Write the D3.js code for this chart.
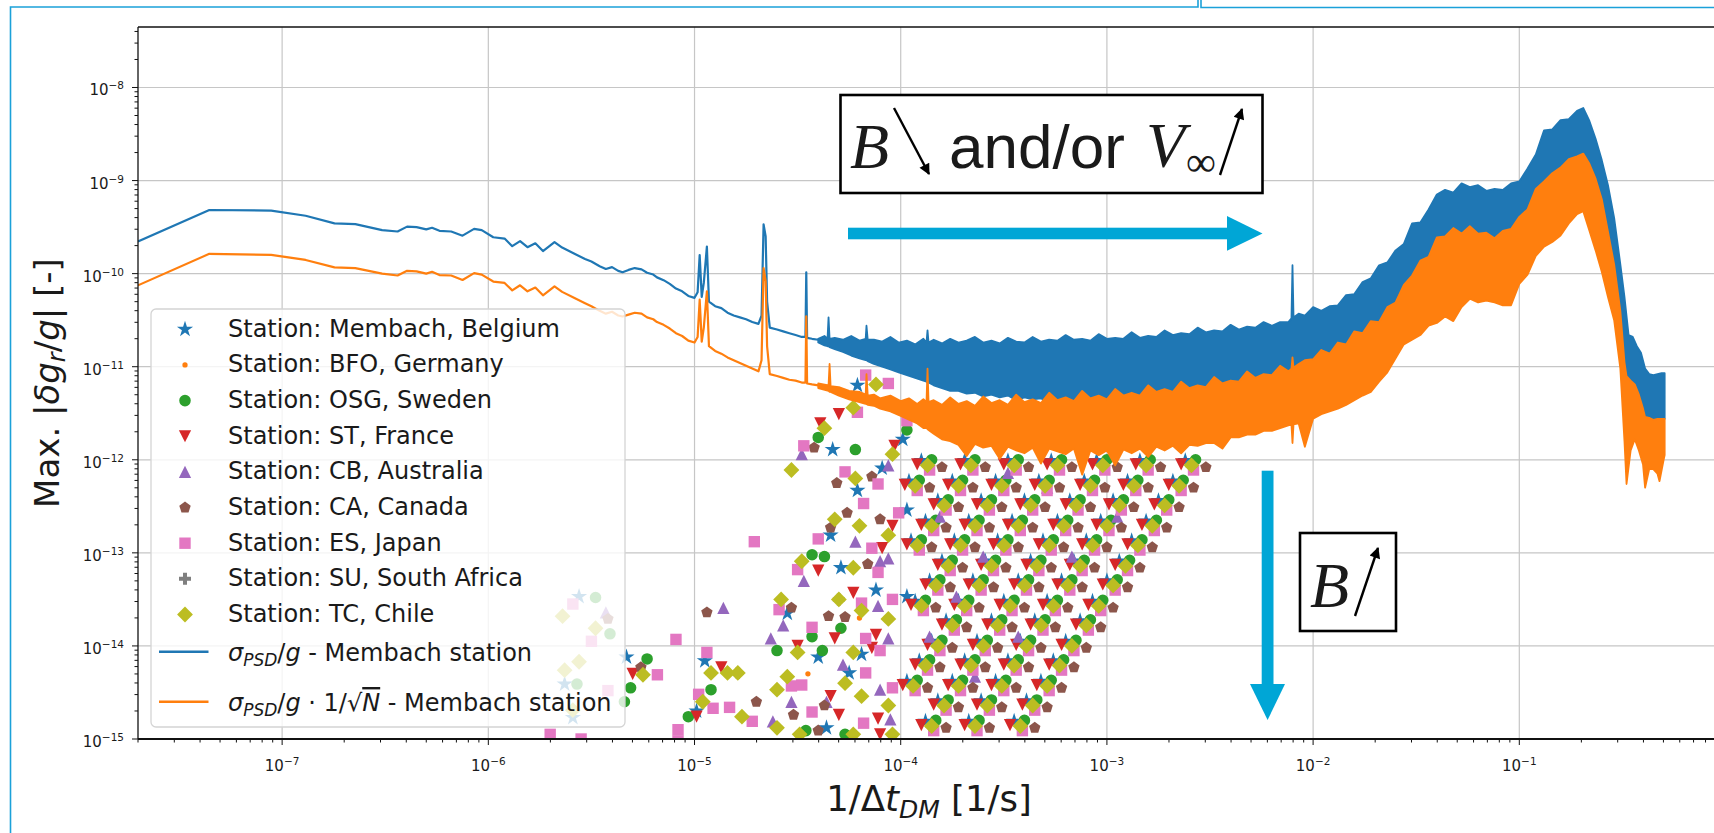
<!DOCTYPE html>
<html>
<head>
<meta charset="utf-8">
<script src="https://cdn.jsdelivr.net/npm/d3@7"></script>
<style>
  body { margin: 0; background: #fff; }
  svg { display: block; }
  text { fill: #1a1a1a; }
</style>
</head>
<body>
<svg id="svg"></svg>
<script>
// all values are log10 of (1/dt [1/s], max |dg/g|)

// sigma_PSD/g, smooth low-frequency part
const blueLine = [
  [-7.699,-9.654],[-7.353,-9.316],[-7.053,-9.323],[-6.886,-9.378],[-6.746,-9.46],[-6.645,-9.468],[-6.515,-9.533],
  [-6.44,-9.547],[-6.394,-9.495],[-6.348,-9.50],[-6.301,-9.525],[-6.273,-9.507],[-6.237,-9.54],[-6.18,-9.547],
  [-6.125,-9.592],[-6.069,-9.519],[-6.032,-9.533],[-5.976,-9.609],[-5.921,-9.623],[-5.884,-9.705],[-5.846,-9.65],
  [-5.81,-9.716],[-5.772,-9.674],[-5.735,-9.757],[-5.679,-9.661],[-5.642,-9.72],[-5.587,-9.781],[-5.531,-9.843],
  [-5.50,-9.87],[-5.46,-9.92],[-5.43,-9.95],[-5.40,-9.93],[-5.37,-9.97],[-5.349,-9.985],[-5.32,-9.96],[-5.29,-9.94],
  [-5.257,-9.954],[-5.23,-9.99],[-5.20,-10.01],[-5.182,-10.04],[-5.15,-10.07],[-5.12,-10.11],[-5.09,-10.16],
  [-5.06,-10.19],[-5.03,-10.24],[-5.00,-10.26],[-4.985,-10.2],[-4.975,-9.80],[-4.965,-10.25],[-4.955,-10.1],
  [-4.94,-9.71],[-4.93,-10.3],[-4.90,-10.35],[-4.87,-10.37],[-4.84,-10.42],[-4.81,-10.45],[-4.78,-10.47],
  [-4.75,-10.49],[-4.72,-10.52],[-4.69,-10.54],[-4.675,-10.45],[-4.665,-9.47],[-4.655,-9.6],[-4.648,-10.3],
  [-4.635,-10.58],[-4.60,-10.60],[-4.57,-10.62],[-4.54,-10.64],[-4.51,-10.66],[-4.48,-10.68],[-4.462,-10.68],
  [-4.458,-9.985],[-4.454,-10.69],[-4.43,-10.70],[-4.40,-10.71]
];
// sigma_PSD/g, noisy part: [x, top, bottom]
const blueBand = [
  [-4.40,-10.70,-10.74],[-4.37,-10.67,-10.77],[-4.355,-10.70,-10.78],[-4.35,-10.47,-10.78],[-4.345,-10.70,-10.79],
  [-4.32,-10.69,-10.81],[-4.28,-10.71,-10.84],[-4.24,-10.67,-10.88],[-4.20,-10.72,-10.91],[-4.17,-10.70,-10.93],
  [-4.166,-10.56,-10.93],[-4.16,-10.71,-10.94],[-4.13,-10.71,-10.97],[-4.09,-10.73,-11.00],[-4.05,-10.68,-11.03],
  [-4.01,-10.74,-11.06],[-3.97,-10.72,-11.09],[-3.93,-10.76,-11.12],[-3.89,-10.70,-11.15],[-3.875,-10.74,-11.16],
  [-3.87,-10.61,-11.17],[-3.865,-10.74,-11.17],[-3.84,-10.71,-11.20],[-3.80,-10.75,-11.23],[-3.76,-10.70,-11.26],
  [-3.72,-10.74,-11.26],[-3.68,-10.72,-11.29],[-3.64,-10.68,-11.28],[-3.60,-10.74,-11.32],[-3.56,-10.72,-11.30],
  [-3.52,-10.75,-11.33],[-3.48,-10.69,-11.31],[-3.44,-10.73,-11.36],[-3.40,-10.74,-11.33],[-3.36,-10.68,-11.35],
  [-3.32,-10.73,-11.34],[-3.28,-10.71,-11.38],[-3.24,-10.72,-11.35],[-3.20,-10.66,-11.37],[-3.16,-10.71,-11.36],
  [-3.12,-10.70,-11.39],[-3.08,-10.72,-11.36],[-3.04,-10.65,-11.38],[-3.00,-10.70,-11.37],[-2.96,-10.69,-11.38],
  [-2.92,-10.70,-11.35],[-2.88,-10.63,-11.37],[-2.84,-10.69,-11.34],[-2.80,-10.67,-11.36],[-2.76,-10.68,-11.33],
  [-2.72,-10.61,-11.34],[-2.68,-10.66,-11.32],[-2.64,-10.64,-11.33],[-2.60,-10.65,-11.30],[-2.56,-10.58,-11.31],
  [-2.52,-10.63,-11.29],[-2.48,-10.61,-11.29],[-2.44,-10.62,-11.26],[-2.40,-10.55,-11.26],[-2.36,-10.60,-11.23],
  [-2.32,-10.57,-11.22],[-2.28,-10.58,-11.19],[-2.24,-10.52,-11.18],[-2.20,-10.56,-11.15],[-2.16,-10.52,-11.14],
  [-2.12,-10.52,-11.10],[-2.105,-10.48,-11.06],[-2.10,-9.91,-11.0],[-2.095,-10.47,-11.06],[-2.07,-10.43,-11.08],
  [-2.04,-10.45,-11.05],[-2.00,-10.36,-11.0],[-1.96,-10.40,-10.98],[-1.92,-10.35,-10.95],[-1.88,-10.34,-10.9],
  [-1.84,-10.23,-10.85],[-1.80,-10.22,-10.8],[-1.76,-10.09,-10.75],[-1.72,-10.05,-10.7],[-1.68,-9.91,-10.6],
  [-1.64,-9.88,-10.5],[-1.60,-9.75,-10.4],[-1.56,-9.68,-10.3],[-1.52,-9.46,-10.2],[-1.48,-9.45,-10.1],
  [-1.44,-9.31,-10.0],[-1.40,-9.15,-9.9],[-1.36,-9.10,-9.8],[-1.32,-9.13,-9.7],[-1.28,-9.03,-9.7],
  [-1.24,-9.07,-9.7],[-1.20,-9.05,-9.8],[-1.16,-9.11,-9.75],[-1.12,-9.09,-9.75],[-1.08,-9.10,-9.7],
  [-1.04,-9.03,-9.6],[-1.00,-9.01,-9.5],[-0.96,-8.87,-9.4],[-0.92,-8.72,-9.2],[-0.88,-8.46,-9.1],
  [-0.84,-8.45,-9.0],[-0.80,-8.35,-8.95],[-0.76,-8.34,-8.85],[-0.72,-8.25,-8.8],[-0.69,-8.22,-8.8],
  [-0.66,-8.36,-8.9],[-0.63,-8.55,-9.2],[-0.60,-8.78,-9.4],[-0.57,-9.05,-9.8],[-0.54,-9.40,-10.1],
  [-0.51,-9.90,-10.6],[-0.49,-10.25,-11.0],[-0.47,-10.66,-11.2],[-0.45,-10.68,-11.3],[-0.43,-10.78,-11.35],
  [-0.41,-10.85,-11.45],[-0.39,-11.02,-11.54],[-0.37,-11.08,-11.55],[-0.35,-11.09,-11.57],[-0.33,-11.08,-11.56],
  [-0.31,-11.07,-11.56],[-0.295,-11.07,-11.56]
];

// sigma_PSD/g * 1/sqrt(N)
const orangeLine = [
  [-7.699,-10.126],[-7.353,-9.787],[-7.053,-9.798],[-6.886,-9.853],[-6.746,-9.932],[-6.645,-9.94],[-6.515,-10.0],
  [-6.44,-10.02],[-6.394,-9.97],[-6.348,-9.975],[-6.301,-10.0],[-6.273,-9.98],[-6.237,-10.015],[-6.18,-10.02],
  [-6.125,-10.068],[-6.069,-9.995],[-6.032,-10.01],[-5.976,-10.085],[-5.921,-10.1],[-5.884,-10.18],[-5.846,-10.125],
  [-5.81,-10.19],[-5.772,-10.15],[-5.735,-10.233],[-5.679,-10.137],[-5.642,-10.196],[-5.587,-10.257],[-5.531,-10.318],
  [-5.50,-10.35],[-5.46,-10.40],[-5.43,-10.43],[-5.40,-10.41],[-5.37,-10.45],[-5.349,-10.46],[-5.32,-10.44],
  [-5.29,-10.42],[-5.257,-10.43],[-5.23,-10.47],[-5.20,-10.49],[-5.182,-10.52],[-5.15,-10.55],[-5.12,-10.59],
  [-5.09,-10.64],[-5.06,-10.67],[-5.03,-10.72],[-5.00,-10.74],[-4.985,-10.68],[-4.975,-10.28],[-4.965,-10.73],
  [-4.955,-10.58],[-4.94,-10.19],[-4.93,-10.78],[-4.90,-10.83],[-4.87,-10.86],[-4.84,-10.90],[-4.81,-10.93],
  [-4.78,-10.96],[-4.75,-10.99],[-4.72,-11.02],[-4.69,-11.05],[-4.675,-10.93],[-4.665,-9.94],[-4.655,-10.08],
  [-4.648,-10.78],[-4.635,-11.08],[-4.60,-11.10],[-4.57,-11.12],[-4.54,-11.14],[-4.51,-11.15],[-4.48,-11.17],
  [-4.462,-11.17],[-4.458,-10.46],[-4.454,-11.18],[-4.43,-11.19],[-4.40,-11.20]
];
const orangeBand = [
  [-4.40,-11.18,-11.23],[-4.35,-11.20,-11.26],[-4.345,-10.97,-11.27],[-4.34,-11.21,-11.27],[-4.30,-11.22,-11.31],
  [-4.25,-11.26,-11.35],[-4.20,-11.27,-11.38],[-4.17,-11.30,-11.40],[-4.166,-11.08,-11.40],[-4.16,-11.31,-11.41],
  [-4.13,-11.30,-11.42],[-4.10,-11.34,-11.45],[-4.05,-11.31,-11.48],[-4.00,-11.37,-11.53],[-3.96,-11.34,-11.57],
  [-3.92,-11.40,-11.61],[-3.89,-11.35,-11.66],[-3.875,-11.38,-11.66],[-3.87,-11.02,-11.67],[-3.865,-11.38,-11.68],
  [-3.84,-11.36,-11.72],[-3.80,-11.41,-11.78],[-3.76,-11.33,-11.80],[-3.72,-11.40,-11.84],[-3.68,-11.37,-11.96],
  [-3.64,-11.42,-11.83],[-3.60,-11.32,-11.87],[-3.56,-11.39,-11.85],[-3.52,-11.36,-11.99],[-3.48,-11.41,-11.86],
  [-3.44,-11.30,-11.90],[-3.40,-11.38,-11.93],[-3.36,-11.35,-11.87],[-3.32,-11.39,-12.04],[-3.28,-11.28,-11.88],
  [-3.24,-11.36,-11.91],[-3.20,-11.33,-11.94],[-3.16,-11.37,-11.88],[-3.12,-11.26,-12.16],[-3.08,-11.34,-11.90],
  [-3.04,-11.31,-11.95],[-3.00,-11.35,-11.90],[-2.96,-11.24,-12.06],[-2.92,-11.31,-11.89],[-2.88,-11.28,-11.93],
  [-2.84,-11.31,-11.88],[-2.80,-11.20,-11.97],[-2.76,-11.27,-11.86],[-2.72,-11.24,-11.90],[-2.68,-11.27,-11.85],
  [-2.64,-11.16,-11.93],[-2.60,-11.23,-11.84],[-2.56,-11.20,-11.85],[-2.52,-11.22,-11.82],[-2.48,-11.11,-11.82],
  [-2.44,-11.18,-11.88],[-2.40,-11.15,-11.76],[-2.36,-11.16,-11.76],[-2.32,-11.05,-11.73],[-2.28,-11.12,-11.73],
  [-2.24,-11.08,-11.69],[-2.20,-11.09,-11.69],[-2.16,-10.99,-11.66],[-2.12,-11.05,-11.63],[-2.105,-11.02,-11.62],
  [-2.10,-10.90,-11.82],[-2.095,-11.01,-11.62],[-2.07,-10.97,-11.61],[-2.04,-10.93,-11.86],[-2.00,-10.92,-11.56],
  [-1.96,-10.82,-11.51],[-1.92,-10.86,-11.48],[-1.88,-10.74,-11.45],[-1.84,-10.76,-11.41],[-1.80,-10.62,-11.36],
  [-1.76,-10.64,-11.31],[-1.72,-10.51,-11.27],[-1.68,-10.52,-11.16],[-1.64,-10.36,-11.06],[-1.60,-10.31,-10.91],
  [-1.56,-10.12,-10.76],[-1.52,-10.02,-10.71],[-1.48,-9.86,-10.66],[-1.44,-9.82,-10.56],[-1.40,-9.61,-10.53],
  [-1.36,-9.60,-10.46],[-1.32,-9.51,-10.51],[-1.28,-9.57,-10.36],[-1.24,-9.49,-10.27],[-1.20,-9.57,-10.31],
  [-1.16,-9.56,-10.29],[-1.12,-9.62,-10.31],[-1.08,-9.54,-10.34],[-1.04,-9.52,-10.34],[-1.00,-9.39,-10.11],
  [-0.96,-9.31,-10.01],[-0.92,-9.09,-9.81],[-0.88,-9.01,-9.71],[-0.84,-8.92,-9.66],[-0.80,-8.86,-9.59],
  [-0.76,-8.77,-9.46],[-0.72,-8.74,-9.36],[-0.69,-8.71,-9.33],[-0.66,-8.82,-9.54],[-0.63,-8.98,-9.75],
  [-0.60,-9.20,-9.98],[-0.57,-9.55,-10.25],[-0.54,-9.90,-10.50],[-0.51,-10.40,-11.02],[-0.49,-10.95,-11.80],
  [-0.48,-11.10,-12.26],[-0.46,-11.15,-11.90],[-0.44,-11.19,-11.78],[-0.42,-11.30,-11.90],[-0.40,-11.45,-12.05],
  [-0.39,-11.54,-12.30],[-0.37,-11.55,-12.10],[-0.35,-11.57,-12.10],[-0.33,-11.56,-12.15],[-0.32,-11.56,-12.23],
  [-0.30,-11.56,-12.0],[-0.295,-11.56,-11.95]
];

// stations
const membach = [
  [-5.56,-13.47],[-5.63,-14.41],[-5.59,-14.77],[-5.33,-14.12],[-4.95,-14.16],[-4.99,-14.70],[-4.40,-14.12],
  [-4.36,-14.88],[-4.25,-14.29],[-4.19,-14.09],[-4.21,-11.20],[-4.33,-11.89],[-4.21,-12.33],[-4.34,-12.81],
  [-4.29,-13.16],[-4.09,-12.09],[-3.99,-11.78],[-3.97,-12.54],[-3.97,-13.47],[-4.55,-13.65],[-4.12,-13.40],
  [-2.62,-12.01],[-2.68,-12.23],[-2.75,-12.44],[-2.81,-12.66],[-2.88,-12.87],[-2.94,-13.09],[-3.00,-13.30],
  [-3.07,-13.52],[-3.13,-13.73],[-3.20,-13.95],[-3.26,-14.16],[-3.32,-14.38],[-3.39,-14.59],[-3.45,-14.81],
  [-2.84,-12.01],[-2.90,-12.23],[-2.97,-12.44],[-3.03,-12.66],[-3.10,-12.87],[-3.16,-13.09],[-3.22,-13.30],
  [-3.29,-13.52],[-3.35,-13.73],[-3.42,-13.95],[-3.48,-14.16],[-3.54,-14.38],[-3.61,-14.59],[-3.67,-14.81],
  [-3.05,-12.01],[-3.11,-12.23],[-3.18,-12.44],[-3.24,-12.66],[-3.31,-12.87],[-3.37,-13.09],[-3.43,-13.30],
  [-3.50,-13.52],[-3.56,-13.73],[-3.63,-13.95],[-3.69,-14.16],[-3.75,-14.38],[-3.82,-14.59],[-3.88,-14.81],
  [-3.27,-12.01],[-3.33,-12.23],[-3.40,-12.44],[-3.46,-12.66],[-3.53,-12.87],[-3.59,-13.09],[-3.65,-13.30],
  [-3.72,-13.52],[-3.78,-13.73],[-3.85,-13.95],[-3.91,-14.16],[-3.97,-14.38],
  [-3.48,-12.01],[-3.54,-12.23],[-3.61,-12.44],[-3.67,-12.66],[-3.74,-12.87],[-3.80,-13.09],[-3.86,-13.30],[-3.93,-13.52],
  [-3.69,-12.01],[-3.75,-12.23],[-3.82,-12.44],[-3.88,-12.66],[-3.95,-12.87],[-3.90,-12.01],[-3.96,-12.23]
];
const bfo = [
  [-2.60,-12.04],[-2.92,-13.12],[-3.24,-14.19],[-3.35,-13.12],[-3.59,-12.47],[-4.20,-13.70],[-4.45,-14.30],[-3.80,-14.62]
];
const osg = [
  [-5.48,-13.48],[-5.41,-13.87],[-5.57,-14.41],[-5.31,-14.45],[-5.34,-14.60],[-5.23,-14.14],[-4.92,-14.47],
  [-5.03,-14.76],[-4.43,-13.90],[-4.38,-14.05],[-4.29,-13.81],[-4.46,-14.91],[-4.27,-14.95],[-4.40,-11.76],
  [-4.22,-11.89],[-4.43,-13.02],[-4.37,-13.04],[-3.97,-11.68],[-4.60,-14.05],
  [-2.57,-12.00],[-2.63,-12.22],[-2.70,-12.43],[-2.76,-12.65],[-2.83,-12.86],[-2.89,-13.08],[-2.95,-13.29],
  [-3.02,-13.51],[-3.08,-13.72],[-3.15,-13.94],[-3.21,-14.15],[-3.27,-14.37],[-3.34,-14.58],[-3.40,-14.80],
  [-2.79,-12.00],[-2.85,-12.22],[-2.92,-12.43],[-2.98,-12.65],[-3.05,-12.86],[-3.11,-13.08],[-3.17,-13.29],
  [-3.24,-13.51],[-3.30,-13.72],[-3.37,-13.94],[-3.43,-14.15],[-3.49,-14.37],[-3.56,-14.58],[-3.62,-14.80],
  [-3.00,-12.00],[-3.06,-12.22],[-3.13,-12.43],[-3.19,-12.65],[-3.26,-12.86],[-3.32,-13.08],[-3.38,-13.29],
  [-3.45,-13.51],[-3.51,-13.72],[-3.58,-13.94],[-3.64,-14.15],[-3.70,-14.37],[-3.77,-14.58],[-3.83,-14.80],
  [-3.22,-12.00],[-3.28,-12.22],[-3.35,-12.43],[-3.41,-12.65],[-3.48,-12.86],[-3.54,-13.08],[-3.60,-13.29],
  [-3.67,-13.51],[-3.73,-13.72],[-3.80,-13.94],[-3.86,-14.15],[-3.92,-14.37],
  [-3.43,-12.00],[-3.49,-12.22],[-3.56,-12.43],[-3.62,-12.65],[-3.69,-12.86],[-3.75,-13.08],[-3.81,-13.29],[-3.88,-13.51],
  [-3.64,-12.00],[-3.70,-12.22],[-3.77,-12.43],[-3.83,-12.65],[-3.90,-12.86],[-3.85,-12.00],[-3.91,-12.22]
];
const st = [
  [-4.87,-14.23],[-4.99,-14.76],[-4.50,-14.00],[-4.32,-13.92],[-4.23,-13.43],[-4.12,-13.88],[-4.14,-14.02],
  [-4.34,-14.54],[-4.30,-14.74],[-4.11,-14.78],[-4.10,-14.95],[-4.39,-11.61],[-4.30,-11.51],[-4.40,-13.19],
  [-4.09,-12.95],[-4.04,-12.71],[-4.03,-11.85],[-5.30,-14.30],
  [-2.64,-12.05],[-2.70,-12.27],[-2.77,-12.48],[-2.83,-12.70],[-2.90,-12.91],[-2.96,-13.13],[-3.02,-13.34],
  [-3.09,-13.56],[-3.15,-13.77],[-3.22,-13.99],[-3.28,-14.20],[-3.34,-14.42],[-3.41,-14.63],[-3.47,-14.85],
  [-2.86,-12.05],[-2.92,-12.27],[-2.99,-12.48],[-3.05,-12.70],[-3.12,-12.91],[-3.18,-13.13],[-3.24,-13.34],
  [-3.31,-13.56],[-3.37,-13.77],[-3.44,-13.99],[-3.50,-14.20],[-3.56,-14.42],[-3.63,-14.63],[-3.69,-14.85],
  [-3.07,-12.05],[-3.13,-12.27],[-3.20,-12.48],[-3.26,-12.70],[-3.33,-12.91],[-3.39,-13.13],[-3.45,-13.34],
  [-3.52,-13.56],[-3.58,-13.77],[-3.65,-13.99],[-3.71,-14.20],[-3.77,-14.42],[-3.84,-14.63],[-3.90,-14.85],
  [-3.29,-12.05],[-3.35,-12.27],[-3.42,-12.48],[-3.48,-12.70],[-3.55,-12.91],[-3.61,-13.13],[-3.67,-13.34],
  [-3.74,-13.56],[-3.80,-13.77],[-3.87,-13.99],[-3.93,-14.20],[-3.99,-14.42],
  [-3.50,-12.05],[-3.56,-12.27],[-3.63,-12.48],[-3.69,-12.70],[-3.76,-12.91],[-3.82,-13.13],[-3.88,-13.34],[-3.95,-13.56],
  [-3.71,-12.05],[-3.77,-12.27],[-3.84,-12.48],[-3.90,-12.70],[-3.97,-12.91],[-3.92,-12.05],[-3.98,-12.27]
];
const cb = [
  [-5.43,-13.64],[-4.86,-13.59],[-4.57,-13.78],[-4.63,-13.92],[-4.11,-13.57],[-4.06,-13.92],[-4.53,-14.60],
  [-4.62,-14.81],[-4.36,-14.60],[-4.10,-14.47],[-4.05,-14.79],[-4.48,-11.94],[-4.22,-12.88],[-4.47,-13.30],
  [-4.10,-13.09],[-4.06,-13.06],[-4.06,-12.06],[-4.28,-14.20],
  [-3.48,-12.14],[-3.29,-12.30],[-3.60,-13.04],[-3.73,-13.47],[-3.86,-13.90],[-3.17,-13.04],[-3.43,-13.90],
  [-3.81,-12.61],[-3.64,-14.33],[-2.95,-12.61]
];
const ca = [
  [-5.42,-13.71],[-5.26,-14.23],[-4.94,-13.64],[-4.53,-13.59],[-4.35,-13.68],[-4.27,-13.69],[-4.52,-14.74],
  [-4.40,-14.91],[-4.37,-14.64],[-4.42,-11.87],[-4.31,-12.25],[-4.14,-12.18],[-4.26,-12.57],[-4.34,-12.73],
  [-4.10,-12.64],[-4.16,-13.12],[-4.70,-14.60],
  [-2.52,-12.08],[-2.58,-12.30],[-2.65,-12.51],[-2.71,-12.73],[-2.78,-12.94],[-2.84,-13.16],[-2.90,-13.37],
  [-2.97,-13.59],[-3.03,-13.80],[-3.10,-14.02],[-3.16,-14.23],[-3.22,-14.45],[-3.29,-14.66],[-3.35,-14.88],
  [-2.74,-12.08],[-2.80,-12.30],[-2.87,-12.51],[-2.93,-12.73],[-3.00,-12.94],[-3.06,-13.16],[-3.12,-13.37],
  [-3.19,-13.59],[-3.25,-13.80],[-3.32,-14.02],[-3.38,-14.23],[-3.44,-14.45],[-3.51,-14.66],[-3.57,-14.88],
  [-2.95,-12.08],[-3.01,-12.30],[-3.08,-12.51],[-3.14,-12.73],[-3.21,-12.94],[-3.27,-13.16],[-3.33,-13.37],
  [-3.40,-13.59],[-3.46,-13.80],[-3.53,-14.02],[-3.59,-14.23],[-3.65,-14.45],[-3.72,-14.66],[-3.78,-14.88],
  [-3.17,-12.08],[-3.23,-12.30],[-3.30,-12.51],[-3.36,-12.73],[-3.43,-12.94],[-3.49,-13.16],[-3.55,-13.37],
  [-3.62,-13.59],[-3.68,-13.80],[-3.75,-14.02],[-3.81,-14.23],[-3.87,-14.45],
  [-3.38,-12.08],[-3.44,-12.30],[-3.51,-12.51],[-3.57,-12.73],[-3.64,-12.94],[-3.70,-13.16],[-3.76,-13.37],[-3.83,-13.59],
  [-3.59,-12.08],[-3.65,-12.30],[-3.72,-12.51],[-3.78,-12.73],[-3.85,-12.94],[-3.80,-12.08],[-3.86,-12.30]
];
const es = [
  [-5.59,-13.55],[-5.50,-13.95],[-5.42,-14.48],[-5.18,-14.31],[-5.09,-13.93],[-4.94,-14.07],[-4.98,-14.52],
  [-4.83,-14.66],[-4.91,-14.67],[-4.72,-14.81],[-5.08,-14.90],[-5.08,-15.02],[-4.71,-12.88],[-4.59,-13.61],
  [-4.43,-13.80],[-4.19,-13.54],[-4.17,-13.92],[-4.10,-14.05],[-4.04,-13.50],[-4.53,-14.43],[-4.48,-14.42],
  [-4.43,-14.71],[-4.17,-14.29],[-4.04,-14.45],[-4.18,-14.83],[-4.17,-11.09],[-4.06,-11.18],[-4.21,-11.49],
  [-4.47,-11.85],[-4.27,-12.13],[-4.11,-12.26],[-4.18,-12.47],[-4.14,-12.95],[-4.40,-12.85],[-4.50,-13.18],
  [-4.11,-13.21],[-4.01,-12.57],[-3.97,-11.58],[-5.55,-15.00],[-5.70,-14.95],
  [-2.58,-12.11],[-2.64,-12.33],[-2.71,-12.54],[-2.77,-12.76],[-2.84,-12.97],[-2.90,-13.19],[-2.96,-13.40],
  [-3.03,-13.62],[-3.09,-13.83],[-3.16,-14.05],[-3.22,-14.26],[-3.28,-14.48],[-3.35,-14.69],[-3.41,-14.91],
  [-2.80,-12.11],[-2.86,-12.33],[-2.93,-12.54],[-2.99,-12.76],[-3.06,-12.97],[-3.12,-13.19],[-3.18,-13.40],
  [-3.25,-13.62],[-3.31,-13.83],[-3.38,-14.05],[-3.44,-14.26],[-3.50,-14.48],[-3.57,-14.69],[-3.63,-14.91],
  [-3.01,-12.11],[-3.07,-12.33],[-3.14,-12.54],[-3.20,-12.76],[-3.27,-12.97],[-3.33,-13.19],[-3.39,-13.40],
  [-3.46,-13.62],[-3.52,-13.83],[-3.59,-14.05],[-3.65,-14.26],[-3.71,-14.48],[-3.78,-14.69],[-3.84,-14.91],
  [-3.23,-12.11],[-3.29,-12.33],[-3.36,-12.54],[-3.42,-12.76],[-3.49,-12.97],[-3.55,-13.19],[-3.61,-13.40],
  [-3.68,-13.62],[-3.74,-13.83],[-3.81,-14.05],[-3.87,-14.26],[-3.93,-14.48],
  [-3.44,-12.11],[-3.50,-12.33],[-3.57,-12.54],[-3.63,-12.76],[-3.70,-12.97],[-3.76,-13.19],[-3.82,-13.40],[-3.89,-13.62],
  [-3.65,-12.11],[-3.71,-12.33],[-3.78,-12.54],[-3.84,-12.76],[-3.91,-12.97],[-3.86,-12.11],[-3.92,-12.33]
];
const su = [
  [-2.59,-12.06],[-3.13,-13.14],[-3.47,-13.57],[-3.85,-14.86],[-4.30,-13.50],[-4.79,-14.29]
];
const tc = [
  [-5.64,-13.68],[-5.48,-13.81],[-5.56,-14.17],[-5.63,-14.26],[-5.59,-14.69],[-5.25,-14.31],[-4.92,-14.29],
  [-4.84,-14.29],[-4.79,-14.29],[-4.96,-14.60],[-4.77,-14.76],[-4.53,-12.11],[-4.58,-13.50],[-4.50,-14.07],
  [-4.30,-13.50],[-4.19,-13.62],[-4.06,-13.71],[-4.23,-14.07],[-4.60,-14.47],[-4.55,-14.33],[-4.60,-14.88],
  [-4.49,-14.95],[-4.27,-14.40],[-4.19,-14.54],[-4.06,-14.64],[-4.04,-14.95],[-4.23,-14.95],[-4.12,-11.19],
  [-4.23,-11.44],[-4.37,-11.66],[-4.22,-12.20],[-4.32,-12.64],[-4.20,-12.71],[-4.48,-13.09],[-4.23,-13.16],
  [-4.06,-12.81],[-4.04,-11.94],
  [-2.59,-12.06],[-2.65,-12.28],[-2.72,-12.49],[-2.78,-12.71],[-2.85,-12.92],[-2.91,-13.14],[-2.97,-13.35],
  [-3.04,-13.57],[-3.10,-13.78],[-3.17,-14.00],[-3.23,-14.21],[-3.29,-14.43],[-3.36,-14.64],[-3.42,-14.86],
  [-2.81,-12.06],[-2.87,-12.28],[-2.94,-12.49],[-3.00,-12.71],[-3.07,-12.92],[-3.13,-13.14],[-3.19,-13.35],
  [-3.26,-13.57],[-3.32,-13.78],[-3.39,-14.00],[-3.45,-14.21],[-3.51,-14.43],[-3.58,-14.64],[-3.64,-14.86],
  [-3.02,-12.06],[-3.08,-12.28],[-3.15,-12.49],[-3.21,-12.71],[-3.28,-12.92],[-3.34,-13.14],[-3.40,-13.35],
  [-3.47,-13.57],[-3.53,-13.78],[-3.60,-14.00],[-3.66,-14.21],[-3.72,-14.43],[-3.79,-14.64],[-3.85,-14.86],
  [-3.24,-12.06],[-3.30,-12.28],[-3.37,-12.49],[-3.43,-12.71],[-3.50,-12.92],[-3.56,-13.14],[-3.62,-13.35],
  [-3.69,-13.57],[-3.75,-13.78],[-3.82,-14.00],[-3.88,-14.21],[-3.94,-14.43],
  [-3.45,-12.06],[-3.51,-12.28],[-3.58,-12.49],[-3.64,-12.71],[-3.71,-12.92],[-3.77,-13.14],[-3.83,-13.35],[-3.90,-13.57],
  [-3.66,-12.06],[-3.72,-12.28],[-3.79,-12.49],[-3.85,-12.71],[-3.92,-12.92],[-3.87,-12.06],[-3.93,-12.28]
];

const stationNames = ["Membach, Belgium", "BFO, Germany", "OSG, Sweden", "ST, France", "CB, Australia",
  "CA, Canada", "ES, Japan", "SU, South Africa", "TC, Chile"];
const xTickExps = [-7, -6, -5, -4, -3, -2, -1];
const yTickExps = [-15, -14, -13, -12, -11, -10, -9, -8];

// ---------------------------------------------------------------
const width = 1714, height = 833;
const svg = d3.select("#svg").attr("width", width).attr("height", height)
  .style("font-family", "'DejaVu Sans', sans-serif");

const plotLeft = 138, plotTop = 27, plotBottom = 739;
const x = d3.scaleLog().domain([2e-8, 1]).range([plotLeft, 1725.5]);
const y = d3.scaleLog().domain([1e-15, Math.pow(10, -7.35)]).range([plotBottom, plotTop]);
const lx = v => x(Math.pow(10, v));
const ly = v => y(Math.pow(10, v));

svg.append("rect").attr("width", width).attr("height", height).attr("fill", "#fff");

// marker shapes similar to matplotlib's
const triDown = { draw(c, s) { const h = Math.sqrt(s) / 2; c.moveTo(-h, -h); c.lineTo(h, -h); c.lineTo(0, h); c.closePath(); } };
const triUp = { draw(c, s) { const h = Math.sqrt(s) / 2; c.moveTo(0, -h); c.lineTo(h, h); c.lineTo(-h, h); c.closePath(); } };
const pentagon = { draw(c, s) {
  const r = Math.sqrt(s) / 2;
  for (let i = 0; i < 5; i++) {
    const a = -Math.PI / 2 + i * 2 * Math.PI / 5;
    if (i === 0) c.moveTo(r * Math.cos(a), r * Math.sin(a)); else c.lineTo(r * Math.cos(a), r * Math.sin(a));
  }
  c.closePath();
} };
const diamond = { draw(c, s) { const h = Math.sqrt(s) / 2; c.moveTo(0, -h); c.lineTo(h, 0); c.lineTo(0, h); c.lineTo(-h, 0); c.closePath(); } };
const plus = { draw(c, s) {
  const h = Math.sqrt(s) / 2, t = h / 3;
  c.moveTo(-t, -h); c.lineTo(t, -h); c.lineTo(t, -t); c.lineTo(h, -t); c.lineTo(h, t); c.lineTo(t, t);
  c.lineTo(t, h); c.lineTo(-t, h); c.lineTo(-t, t); c.lineTo(-h, t); c.lineTo(-h, -t); c.lineTo(-t, -t); c.closePath();
} };

const stations = [
  { data: membach, color: "#1f77b4", type: d3.symbolStar, size: 81 },
  { data: bfo, color: "#ff7f0e", type: d3.symbolCircle, size: 22 },
  { data: osg, color: "#2ca02c", type: d3.symbolCircle, size: 105 },
  { data: st, color: "#d62728", type: triDown, size: 150 },
  { data: cb, color: "#9467bd", type: triUp, size: 150 },
  { data: ca, color: "#8c564b", type: pentagon, size: 144 },
  { data: es, color: "#e377c2", type: d3.symbolSquare, size: 130 },
  { data: su, color: "#7f7f7f", type: plus, size: 144 },
  { data: tc, color: "#bcbd22", type: diamond, size: 250 }
];

// clip to the axes box
svg.append("clipPath").attr("id", "plotClip")
  .append("rect").attr("x", plotLeft).attr("y", plotTop).attr("width", width - plotLeft).attr("height", plotBottom - plotTop);

// grid
const grid = svg.append("g").attr("stroke", "#c6c6c6").attr("stroke-width", 1.2);
grid.selectAll(".gx").data(xTickExps).join("line")
  .attr("x1", d => lx(d)).attr("x2", d => lx(d)).attr("y1", plotTop).attr("y2", plotBottom);
grid.selectAll(".gy").data(yTickExps).join("line")
  .attr("x1", plotLeft).attr("x2", width).attr("y1", d => ly(d)).attr("y2", d => ly(d));

const plot = svg.append("g").attr("clip-path", "url(#plotClip)");

// scatter, one layer per station in legend order
stations.forEach(s => {
  const sym = d3.symbol(s.type, s.size);
  plot.append("g").selectAll("path").data(s.data).join("path")
    .attr("d", sym)
    .attr("transform", d => `translate(${lx(d[0])},${ly(d[1])})`)
    .attr("fill", s.color);
});

// noise curves
function drawCurve(line, band, color) {
  plot.append("path")
    .attr("d", d3.line().x(d => lx(d[0])).y(d => ly(d[1]))(line))
    .attr("fill", "none").attr("stroke", color).attr("stroke-width", 2.2).attr("stroke-linejoin", "round");
  plot.append("path")
    .attr("d", d3.area().x(d => lx(d[0])).y0(d => ly(d[2])).y1(d => ly(d[1]))(band))
    .attr("fill", color).attr("stroke", color).attr("stroke-width", 1.8).attr("stroke-linejoin", "round");
}
drawCurve(blueLine, blueBand, "#1f77b4");
drawCurve(orangeLine, orangeBand, "#ff7f0e");

// spines
const spines = svg.append("g").attr("stroke", "#111").attr("stroke-width", 1.3);
spines.append("line").attr("x1", plotLeft).attr("x2", plotLeft).attr("y1", plotTop).attr("y2", plotBottom);
spines.append("line").attr("x1", plotLeft).attr("x2", width).attr("y1", plotTop).attr("y2", plotTop);
spines.append("line").attr("x1", plotLeft).attr("x2", width).attr("y1", plotBottom).attr("y2", plotBottom).attr("stroke-width", 1.8);

// ticks
const isMinor = v => Math.abs(Math.log10(v) - Math.round(Math.log10(v))) > 1e-6;
const xMinor = x.ticks().filter(isMinor);
const yMinor = y.ticks().filter(isMinor);
const ticks = svg.append("g").attr("stroke", "#111").attr("stroke-width", 1);
ticks.selectAll(".xM").data(xTickExps).join("line")
  .attr("x1", d => lx(d)).attr("x2", d => lx(d)).attr("y1", plotBottom).attr("y2", plotBottom + 6);
ticks.selectAll(".xm").data(xMinor).join("line")
  .attr("x1", d => x(d)).attr("x2", d => x(d)).attr("y1", plotBottom).attr("y2", plotBottom + 3.5);
ticks.selectAll(".yM").data(yTickExps).join("line")
  .attr("x1", plotLeft - 6).attr("x2", plotLeft).attr("y1", d => ly(d)).attr("y2", d => ly(d));
ticks.selectAll(".ym").data(yMinor).join("line")
  .attr("x1", plotLeft - 3.5).attr("x2", plotLeft).attr("y1", d => y(d)).attr("y2", d => y(d));

function powerLabel(sel) {
  sel.text("10").append("tspan").attr("dy", -6).attr("font-size", 10.5).text(d => "\u2212" + Math.abs(d));
}
svg.append("g").selectAll("text").data(xTickExps).join("text")
  .attr("x", d => lx(d)).attr("y", 771).attr("text-anchor", "middle").attr("font-size", 15)
  .call(powerLabel);
svg.append("g").selectAll("text").data(yTickExps).join("text")
  .attr("x", 124).attr("y", d => ly(d) + 8).attr("text-anchor", "end").attr("font-size", 15)
  .call(powerLabel);

// axis labels
const xl = svg.append("text").attr("x", 929).attr("y", 811).attr("text-anchor", "middle").attr("font-size", 35.5);
xl.append("tspan").text("1/\u0394");
xl.append("tspan").attr("font-style", "italic").text("t");
xl.append("tspan").attr("font-style", "italic").attr("font-size", 25).attr("dy", 7).text("DM");
xl.append("tspan").attr("dy", -7).text(" [1/s]");

const yl = svg.append("text").attr("transform", "translate(59,383) rotate(-90)")
  .attr("text-anchor", "middle").attr("font-size", 34);
yl.append("tspan").text("Max. |");
yl.append("tspan").attr("font-style", "italic").text("\u03b4g");
yl.append("tspan").attr("font-style", "italic").attr("font-size", 24).attr("dy", 6).text("r");
yl.append("tspan").attr("dy", -6).text("/");
yl.append("tspan").attr("font-style", "italic").text("g");
yl.append("tspan").text("| [-]");

// legend
const legend = svg.append("g");
legend.append("rect").attr("x", 151).attr("y", 309).attr("width", 474).attr("height", 418).attr("rx", 5)
  .attr("fill", "#fff").attr("fill-opacity", 0.8).attr("stroke", "#d4d4d4").attr("stroke-width", 1.3);
stations.forEach((s, i) => {
  const cy = 329.3 + 35.65 * i;
  legend.append("path").attr("d", d3.symbol(s.type, s.size)).attr("transform", `translate(185,${cy})`).attr("fill", s.color);
  legend.append("text").attr("x", 228).attr("y", cy + 7.3).attr("font-size", 24).text("Station: " + stationNames[i]);
});
[["#1f77b4", 651.7], ["#ff7f0e", 701.7]].forEach(([c, cy], i) => {
  legend.append("line").attr("x1", 159).attr("x2", 208.5).attr("y1", cy).attr("y2", cy)
    .attr("stroke", c).attr("stroke-width", 2.6);
  const t = legend.append("text").attr("x", 228).attr("y", cy + 9.3).attr("font-size", 24);
  t.append("tspan").attr("font-style", "italic").text("\u03c3");
  t.append("tspan").attr("font-style", "italic").attr("font-size", 17).attr("dy", 5).text("PSD");
  t.append("tspan").attr("dy", -5).text("/");
  t.append("tspan").attr("font-style", "italic").text("g");
  if (i === 1) {
    t.append("tspan").text(" \u00b7 1/\u221a");
    t.append("tspan").attr("font-style", "italic").style("text-decoration", "overline").text("N");
  }
  t.append("tspan").text(" - Membach station");
});

// annotations
const cyan = "#00a6d6";
const serif = "'Liberation Serif', 'DejaVu Serif', serif";
svg.append("defs").append("marker").attr("id", "head").attr("viewBox", "0 0 10 10").attr("refX", 9).attr("refY", 5)
  .attr("markerWidth", 14).attr("markerHeight", 11).attr("orient", "auto").attr("markerUnits", "userSpaceOnUse")
  .append("path").attr("d", "M0,0L10,5L0,10Z").attr("fill", "#000");

const ann = svg.append("g");
ann.append("rect").attr("x", 840.5).attr("y", 95).attr("width", 422).attr("height", 98)
  .attr("fill", "#fff").attr("stroke", "#000").attr("stroke-width", 2.6);
const t1 = ann.append("text").attr("y", 168).attr("font-size", 64);
t1.append("tspan").attr("x", 850).style("font-family", serif).attr("font-style", "italic").text("B");
t1.append("tspan").attr("x", 949).style("font-family", "'Liberation Sans', Arial, sans-serif").attr("font-size", 62).text("and/or");
t1.append("tspan").attr("x", 1146).attr("y", 167).style("font-family", serif).attr("font-style", "italic").text("V");
t1.append("tspan").attr("x", 1186).attr("y", 176).style("font-family", serif).attr("font-size", 42).text("\u221e");
ann.append("line").attr("x1", 894).attr("y1", 108).attr("x2", 929).attr("y2", 174)
  .attr("stroke", "#000").attr("stroke-width", 2.4).attr("marker-end", "url(#head)");
ann.append("line").attr("x1", 1220).attr("y1", 175).attr("x2", 1242).attr("y2", 109)
  .attr("stroke", "#000").attr("stroke-width", 2.4).attr("marker-end", "url(#head)");

ann.append("rect").attr("x", 848).attr("y", 227.7).attr("width", 380).attr("height", 11.6).attr("fill", cyan);
ann.append("path").attr("d", "M1227,216L1262.5,233.5L1227,250.7Z").attr("fill", cyan);
ann.append("rect").attr("x", 1261.7).attr("y", 470.7).attr("width", 11.8).attr("height", 214).attr("fill", cyan);
ann.append("path").attr("d", "M1250,684L1285,684L1267.6,720Z").attr("fill", cyan);

ann.append("rect").attr("x", 1300).attr("y", 533).attr("width", 96).attr("height", 98)
  .attr("fill", "#fff").attr("stroke", "#000").attr("stroke-width", 2.6);
ann.append("text").attr("x", 1310).attr("y", 606.5).style("font-family", serif).attr("font-style", "italic")
  .attr("font-size", 64).text("B");
ann.append("line").attr("x1", 1355).attr("y1", 616).attr("x2", 1378).attr("y2", 548)
  .attr("stroke", "#000").attr("stroke-width", 2.4).attr("marker-end", "url(#head)");

// slide frame
const frame = svg.append("g").attr("stroke", "#1ba1d9").attr("stroke-width", 1.6).attr("fill", "none");
frame.append("path").attr("d", "M10.5,833V7H1198V0");
frame.append("path").attr("d", "M1201,0V7.5H1714");
</script>
</body>
</html>
